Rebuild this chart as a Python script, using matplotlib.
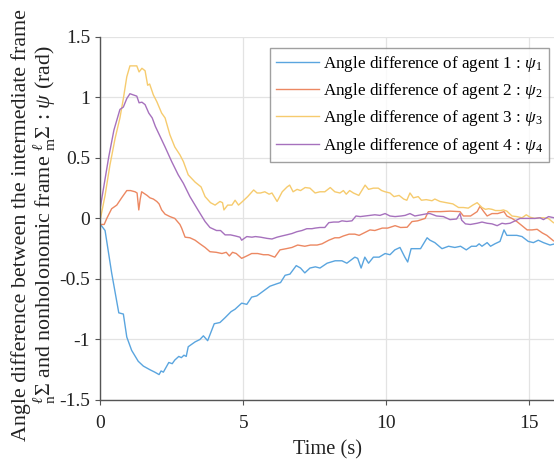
import matplotlib
matplotlib.use("Agg")
import matplotlib.pyplot as plt

plt.rcParams['font.family'] = ['Liberation Serif', 'DejaVu Serif']
plt.rcParams['mathtext.fontset'] = 'custom'
plt.rcParams['mathtext.rm'] = 'Liberation Serif'
plt.rcParams['mathtext.it'] = 'Liberation Serif:italic'

# Agent 1
t1 = [0.0, 0.16, 0.39, 0.64, 0.8, 0.92, 1.09, 1.32, 1.5, 1.73, 1.9, 2.05, 2.12, 2.2,
      2.39, 2.51, 2.6, 2.74, 2.83, 2.92, 3.0, 3.07, 3.31, 3.48, 3.6, 3.75, 3.98,
      4.18, 4.36, 4.57, 4.71, 4.94, 5.12, 5.29, 5.47, 5.7, 5.93, 6.17, 6.3, 6.46,
      6.63, 6.85, 7.0, 7.15, 7.33, 7.52, 7.68, 7.93, 8.21, 8.45, 8.62, 8.9, 9.0,
      9.12, 9.25, 9.38, 9.55, 9.75, 9.96, 10.13, 10.3, 10.48, 10.65, 10.75, 10.87,
      11.2, 11.43, 11.53, 11.7, 11.95, 12.18, 12.4, 12.6, 12.8, 12.98, 13.15, 13.25,
      13.35, 13.53, 13.65, 13.8, 13.98, 14.12, 14.22, 14.4, 14.57, 14.75, 14.97,
      15.15, 15.32, 15.5, 15.73, 15.9]
psi1 = [-0.05, -0.1, -0.45, -0.78, -0.79, -0.98, -1.09, -1.18, -1.22, -1.25, -1.27,
        -1.29, -1.26, -1.27, -1.19, -1.2, -1.17, -1.14, -1.15, -1.13, -1.14, -1.06,
        -1.02, -1.0, -0.97, -1.01, -0.87, -0.86, -0.82, -0.77, -0.75, -0.7, -0.71,
        -0.65, -0.64, -0.6, -0.56, -0.54, -0.53, -0.47, -0.46, -0.39, -0.41, -0.45,
        -0.41, -0.4, -0.41, -0.37, -0.35, -0.35, -0.37, -0.32, -0.33, -0.41, -0.32,
        -0.37, -0.32, -0.32, -0.29, -0.3, -0.26, -0.24, -0.32, -0.36, -0.25, -0.25,
        -0.16, -0.18, -0.2, -0.25, -0.23, -0.24, -0.23, -0.26, -0.23, -0.23, -0.21,
        -0.23, -0.2, -0.23, -0.21, -0.19, -0.095, -0.14, -0.14, -0.14, -0.15, -0.19,
        -0.2, -0.18, -0.2, -0.22, -0.21]

# Agent 2
t2 = [0.0, 0.13, 0.22, 0.39, 0.57, 0.74, 0.92, 1.05, 1.21, 1.28, 1.34, 1.39, 1.44,
      1.63, 1.73, 1.85, 1.97, 2.05, 2.14, 2.26, 2.43, 2.6, 2.78, 2.84, 2.96, 3.13,
      3.31, 3.48, 3.66, 3.83, 4.05, 4.25, 4.4, 4.51, 4.62, 4.75, 4.94, 5.12, 5.29,
      5.5, 5.7, 5.87, 6.1, 6.28, 6.5, 6.7, 6.9, 7.15, 7.35, 7.58, 7.75, 7.99, 8.2,
      8.35, 8.5, 8.7, 8.9, 9.05, 9.22, 9.43, 9.6, 9.86, 10.05, 10.31, 10.5, 10.73,
      10.9, 11.1, 11.36, 11.47, 11.53, 11.9, 12.23, 12.58, 12.7, 12.95, 13.18,
      13.28, 13.4, 13.53, 13.7, 13.9, 14.12, 14.22, 14.4, 14.57, 14.75, 14.93,
      15.1, 15.28, 15.46, 15.62, 15.85]
psi2 = [-0.05, -0.05, 0.0, 0.08, 0.11, 0.17, 0.23, 0.23, 0.22, 0.21, 0.07, 0.16,
        0.22, 0.19, 0.17, 0.16, 0.14, 0.12, 0.07, 0.035, 0.015, 0.0, -0.05, -0.08,
        -0.155, -0.16, -0.18, -0.21, -0.24, -0.275, -0.28, -0.29, -0.28, -0.31,
        -0.28, -0.29, -0.33, -0.31, -0.29, -0.29, -0.3, -0.3, -0.32, -0.26, -0.25,
        -0.24, -0.22, -0.23, -0.22, -0.22, -0.21, -0.18, -0.16, -0.16, -0.145,
        -0.13, -0.13, -0.14, -0.12, -0.095, -0.1, -0.08, -0.08, -0.06, -0.075,
        -0.073, -0.026, -0.02, 0.0, 0.055, 0.056, 0.056, 0.06, 0.056, 0.02, 0.02,
        0.056, 0.1, 0.06, 0.02, 0.04, 0.04, 0.056, 0.02, 0.0, -0.026, -0.06,
        -0.095, -0.095, -0.09, -0.12, -0.14, -0.185]

# Agent 3
t3 = [0.0, 0.16, 0.33, 0.51, 0.68, 0.8, 0.92, 1.03, 1.27, 1.35, 1.45, 1.56, 1.65,
      1.72, 1.85, 1.97, 2.14, 2.26, 2.43, 2.6, 2.78, 2.9, 3.07, 3.31, 3.52, 3.66,
      3.85, 4.01, 4.18, 4.27, 4.32, 4.45, 4.6, 4.71, 4.83, 4.97, 5.15, 5.36, 5.48,
      5.6, 5.75, 5.9, 6.0, 6.18, 6.36, 6.53, 6.62, 6.74, 6.88, 7.0, 7.16, 7.33,
      7.51, 7.68, 7.85, 8.04, 8.2, 8.38, 8.5, 8.6, 8.72, 8.85, 9.04, 9.26, 9.38,
      9.55, 9.72, 9.84, 9.96, 10.13, 10.27, 10.45, 10.61, 10.72, 10.83, 10.95,
      11.12, 11.23, 11.4, 11.6, 11.7, 11.88, 12.1, 12.33, 12.53, 12.7, 12.87, 13.03,
      13.18, 13.35, 13.47, 13.58, 13.7, 13.82, 14.0, 14.1, 14.22, 14.4, 14.57,
      14.75, 14.9, 15.03, 15.2, 15.32, 15.5, 15.67, 15.85]
psi3 = [0.0, 0.19, 0.44, 0.66, 0.83, 0.99, 1.17, 1.26, 1.26, 1.21, 1.24, 1.22,
        1.1, 1.11, 1.02, 0.965, 0.87, 0.83, 0.69, 0.59, 0.525, 0.47, 0.36, 0.3,
        0.26, 0.18, 0.13, 0.11, 0.14, 0.13, 0.07, 0.11, 0.11, 0.15, 0.11, 0.14,
        0.18, 0.235, 0.21, 0.21, 0.22, 0.2, 0.21, 0.14, 0.22, 0.26, 0.275, 0.22,
        0.24, 0.23, 0.255, 0.25, 0.21, 0.22, 0.22, 0.255, 0.22, 0.21, 0.23, 0.2,
        0.23, 0.21, 0.19, 0.275, 0.24, 0.25, 0.25, 0.23, 0.22, 0.21, 0.18, 0.19,
        0.16, 0.15, 0.21, 0.17, 0.18, 0.15, 0.155, 0.146, 0.16, 0.14, 0.13, 0.12,
        0.09, 0.09, 0.085, 0.11, 0.13, 0.09, 0.075, 0.08, 0.075, 0.065, 0.065,
        0.07, 0.06, 0.02, 0.015, 0.005, 0.03, 0.01, 0.0, 0.005, 0.005, 0.0, -0.035]

# Agent 4
t4 = [0.0, 0.29, 0.47, 0.68, 0.8, 0.92, 1.03, 1.27, 1.35, 1.45, 1.56, 1.69, 1.81,
      1.92, 2.08, 2.26, 2.49, 2.72, 2.9, 3.13, 3.41, 3.66, 3.83, 4.06, 4.2, 4.36,
      4.55, 4.72, 4.88, 4.94, 5.12, 5.3, 5.42, 5.6, 5.83, 6.0, 6.18, 6.35, 6.53,
      6.7, 6.87, 7.05, 7.22, 7.4, 7.51, 7.68, 7.85, 7.99, 8.16, 8.33, 8.45, 8.62,
      8.8, 8.94, 9.09, 9.26, 9.43, 9.6, 9.78, 9.96, 10.13, 10.31, 10.52, 10.66,
      10.83, 11.0, 11.23, 11.46, 11.53, 11.76, 12.0, 12.23, 12.46, 12.58, 12.64,
      12.77, 12.94, 13.18, 13.35, 13.53, 13.7, 13.88, 14.05, 14.17, 14.33, 14.51,
      14.68, 14.86, 15.03, 15.2, 15.38, 15.5, 15.68, 15.88]
psi4 = [0.1, 0.51, 0.73, 0.9, 0.92, 0.99, 1.03, 1.01, 0.955, 0.96, 0.94, 0.87,
        0.83, 0.76, 0.68, 0.59, 0.47, 0.36, 0.29, 0.18, 0.07, -0.026, -0.075,
        -0.1, -0.1, -0.136, -0.136, -0.145, -0.155, -0.18, -0.15, -0.155, -0.15,
        -0.155, -0.165, -0.17, -0.155, -0.145, -0.135, -0.125, -0.11, -0.1,
        -0.085, -0.085, -0.08, -0.075, -0.075, -0.035, -0.03, -0.03, -0.02,
        -0.025, -0.02, 0.02, 0.015, 0.02, 0.025, 0.03, 0.025, 0.04, 0.02, 0.015,
        0.02, 0.025, 0.04, 0.02, 0.03, 0.04, 0.04, 0.02, 0.015, -0.01, -0.005,
        0.04, -0.015, -0.045, -0.05, -0.04, -0.03, -0.04, -0.045, -0.06, -0.04,
        -0.045, -0.04, -0.02, 0.0, 0.0, 0.0, 0.0, 0.005, -0.01, 0.015, 0.005]

series = [(t1, psi1, '#5aa5df', 'Angle difference of agent 1 : $\\psi_1$'),
          (t2, psi2, '#ec8862', 'Angle difference of agent 2 : $\\psi_2$'),
          (t3, psi3, '#f6cb6e', 'Angle difference of agent 3 : $\\psi_3$'),
          (t4, psi4, '#a671bd', 'Angle difference of agent 4 : $\\psi_4$')]

fig = plt.figure(figsize=(5.54, 4.62), dpi=100)
ax = fig.add_axes([0.1814, 0.1342, 0.8186, 0.7861])

for t, y, c, lab in series:
    ax.plot(t, y, color=c, lw=1.0, label=lab)

ax.set_xlim(0, 15.87)
ax.set_ylim(-1.5, 1.5)
ax.set_xticks([0, 5, 10, 15])
ax.set_yticks([-1.5, -1, -0.5, 0, 0.5, 1, 1.5])
ax.set_yticklabels(['-1.5', '-1', '-0.5', '0', '0.5', '1', '1.5'])
ax.grid(True, color='#e3e3e3', lw=0.9)
ax.set_axisbelow(True)
for s in ('top', 'right'):
    ax.spines[s].set_visible(False)
for s in ('left', 'bottom'):
    ax.spines[s].set_color('#555555')
    ax.spines[s].set_linewidth(1.0)
ax.tick_params(direction='out', length=3.5, width=0.8, color='#555555',
               labelsize=14, labelcolor='#222222')
ax.tick_params(axis='x', pad=7)
ax.tick_params(axis='y', pad=4)

ax.set_xlabel('Time (s)', fontsize=14.8, color='#222222', labelpad=6)
ax.set_ylabel('Angle difference between the intermediate frame\n'
              '$^{\\ell}_{\\rm n}\\Sigma$ and nonholonomic frame '
              '$^{\\ell}_{\\rm m}\\Sigma$ : $\\psi$ (rad)',
              fontsize=15.8, color='#222222', labelpad=1, linespacing=1.0)
ax.yaxis.label.set_y(0.483)

leg = ax.legend(loc='upper right', bbox_to_anchor=(0.989, 0.969), fontsize=12.3,
                frameon=True, fancybox=False, edgecolor='#888888',
                handlelength=2.5, handletextpad=0.25, borderpad=0.35,
                borderaxespad=0, labelspacing=0.42, handleheight=0.7)
leg.get_frame().set_linewidth(1.0)

fig.savefig('out.png', dpi=100)
